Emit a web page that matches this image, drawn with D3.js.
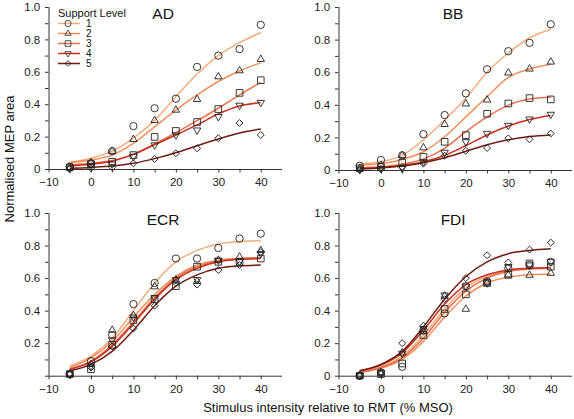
<!DOCTYPE html>
<html><head><meta charset="utf-8">
<script src="https://cdn.jsdelivr.net/npm/d3@7"></script>
<style>
html,body{margin:0;padding:0;background:#fff;}
svg{display:block;font-family:"Liberation Sans",Arial,Helvetica,sans-serif;}
</style></head>
<body><svg id="c" width="574" height="419"></svg>
<script>
// ---------- data ----------
const stimulus = [-5, 0, 5, 10, 15, 20, 25, 30, 35, 40];
const supportLevels = ["1", "2", "3", "4", "5"];
const muscles = ["AD", "BB", "ECR", "FDI"];
const xTicks = [-10, 0, 10, 20, 30, 40];
const yTicks = [0, 0.2, 0.4, 0.6, 0.8, 1.0];
const seriesColors = ["#f5ad7c", "#f0905c", "#e9704c", "#c8301f", "#6e1b10"];
const seriesShapes = ["circle", "triangle", "square", "triangleDown", "diamond"];

// measured points (rows = support level 1..5)
const adPoints = [
  [0.014, 0.035, 0.11, 0.265, 0.375, 0.434, 0.63, 0.70, 0.74, 0.89],
  [0.010, 0.040, 0.11, 0.183, 0.300, 0.364, 0.43, 0.57, 0.607, 0.677],
  [0.010, 0.030, 0.045, 0.086, 0.198, 0.235, 0.29, 0.37, 0.47, 0.548],
  [0.005, 0.020, 0.030, 0.078, 0.148, 0.210, 0.24, 0.323, 0.393, 0.41],
  [0.000, 0.005, 0.010, 0.035, 0.062, 0.097, 0.128, 0.19, 0.284, 0.21]
];
const bbPoints = [
  [0.026, 0.061, 0.09, 0.22, 0.337, 0.47, 0.618, 0.729, 0.78, 0.894],
  [0.010, 0.030, 0.09, 0.137, 0.28, 0.406, 0.43, 0.596, 0.62, 0.663],
  [0.010, 0.020, 0.045, 0.08, 0.173, 0.214, 0.345, 0.408, 0.441, 0.433],
  [0.005, 0.010, 0.010, 0.05, 0.108, 0.173, 0.224, 0.273, 0.312, 0.341],
  [0.000, 0.005, 0.020, 0.039, 0.088, 0.118, 0.135, 0.194, 0.188, 0.224]
];
const ecrPoints = [
  [0.01, 0.09, 0.25, 0.44, 0.57, 0.72, 0.72, 0.785, 0.843, 0.873],
  [0.01, 0.07, 0.28, 0.37, 0.547, 0.59, 0.58, 0.71, 0.73, 0.77],
  [0.01, 0.04, 0.19, 0.34, 0.47, 0.55, 0.67, 0.70, 0.70, 0.72],
  [0.01, 0.06, 0.22, 0.36, 0.48, 0.59, 0.59, 0.71, 0.70, 0.75],
  [0.01, 0.05, 0.18, 0.29, 0.43, 0.57, 0.56, 0.65, 0.68, 0.76]
];
const fdiPoints = [
  [0.0, 0.02, 0.055, 0.28, 0.383, 0.55, 0.58, 0.66, 0.68, 0.70],
  [0.0, 0.02, 0.14, 0.27, 0.49, 0.409, 0.57, 0.62, 0.618, 0.63],
  [0.0, 0.01, 0.075, 0.25, 0.41, 0.50, 0.57, 0.62, 0.69, 0.67],
  [0.0, 0.02, 0.137, 0.29, 0.495, 0.55, 0.57, 0.67, 0.68, 0.70],
  [0.0, 0.01, 0.20, 0.307, 0.47, 0.60, 0.74, 0.696, 0.775, 0.818]
];

// fitted sigmoid curves, read at each stimulus value
const adFit = [
  [0.041, 0.066, 0.11, 0.19, 0.30, 0.446, 0.586, 0.70, 0.78, 0.843],
  [0.039, 0.055, 0.086, 0.158, 0.26, 0.364, 0.457, 0.54, 0.605, 0.656],
  [0.025, 0.035, 0.052, 0.09, 0.155, 0.224, 0.298, 0.375, 0.457, 0.535],
  [0.02, 0.03, 0.048, 0.09, 0.15, 0.21, 0.272, 0.34, 0.389, 0.41],
  [0.005, 0.01, 0.018, 0.035, 0.064, 0.10, 0.144, 0.185, 0.222, 0.247]
];
const bbFit = [
  [0.037, 0.051, 0.09, 0.184, 0.306, 0.44, 0.60, 0.718, 0.81, 0.863],
  [0.03, 0.04, 0.065, 0.112, 0.204, 0.326, 0.449, 0.568, 0.62, 0.649],
  [0.015, 0.02, 0.035, 0.068, 0.133, 0.235, 0.326, 0.398, 0.435, 0.447],
  [0.01, 0.015, 0.027, 0.05, 0.09, 0.15, 0.215, 0.27, 0.31, 0.335],
  [0.008, 0.013, 0.025, 0.045, 0.075, 0.115, 0.155, 0.185, 0.205, 0.215]
];
const ecrFit = [
  [0.06, 0.12, 0.23, 0.40, 0.57, 0.70, 0.77, 0.81, 0.825, 0.83],
  [0.05, 0.11, 0.21, 0.36, 0.50, 0.61, 0.68, 0.71, 0.72, 0.725],
  [0.04, 0.09, 0.19, 0.33, 0.48, 0.60, 0.67, 0.705, 0.72, 0.725],
  [0.04, 0.085, 0.18, 0.32, 0.47, 0.59, 0.66, 0.70, 0.715, 0.72],
  [0.03, 0.07, 0.15, 0.28, 0.43, 0.55, 0.62, 0.66, 0.675, 0.68]
];
const fdiFit = [
  [0.025, 0.055, 0.12, 0.25, 0.41, 0.54, 0.61, 0.645, 0.66, 0.665],
  [0.02, 0.045, 0.10, 0.21, 0.36, 0.49, 0.57, 0.605, 0.62, 0.625],
  [0.02, 0.05, 0.11, 0.23, 0.39, 0.52, 0.60, 0.64, 0.655, 0.66],
  [0.03, 0.065, 0.14, 0.28, 0.44, 0.56, 0.62, 0.65, 0.66, 0.665],
  [0.03, 0.07, 0.15, 0.30, 0.47, 0.61, 0.70, 0.75, 0.77, 0.78]
];

const panelPoints = [adPoints, bbPoints, ecrPoints, fdiPoints];
const panelFits = [adFit, bbFit, ecrFit, fdiFit];

// ---------- layout ----------
const svg = d3.select("#c");
const panels = [
  {x0: 48.5, x1: 282, y0: 169, y1: 7, zeroLabel: true},
  {x0: 338.5, x1: 572, y0: 170, y1: 7, zeroLabel: true},
  {x0: 48.5, x1: 282, y0: 375.7, y1: 213, zeroLabel: false},
  {x0: 338.5, x1: 572, y0: 375.7, y1: 213, zeroLabel: true}
];

function symbolPath(shape) {
  const s = d3.symbol();
  if (shape === "circle") return {d: s.type(d3.symbolCircle).size(42)(), rot: 0};
  if (shape === "triangle") return {d: s.type(d3.symbolTriangle).size(24)(), rot: 0};
  if (shape === "triangleDown") return {d: s.type(d3.symbolTriangle).size(24)(), rot: 180};
  if (shape === "square") return {d: s.type(d3.symbolSquare).size(44)(), rot: 0};
  if (shape === "diamond") return {d: s.type(d3.symbolSquare).size(24)(), rot: 45};
}

panels.forEach((p, pi) => {
  const x = d3.scaleLinear().domain([-10, 45]).range([p.x0, p.x1]);
  const y = d3.scaleLinear().domain([0, 1]).range([p.y0, p.y1]);
  const g = svg.append("g");

  const xAxis = d3.axisBottom(x).tickValues(d3.range(-10, 45, 5)).tickSize(3.5)
    .tickFormat(d => xTicks.includes(d) ? (d < 0 ? "\u2212" + Math.abs(d) : d) : "");
  const gx = g.append("g").attr("transform", `translate(0,${p.y0})`).call(xAxis);
  const yAxis = d3.axisLeft(y).tickValues(d3.range(0, 1.0001, 0.1)).tickSize(3.5)
    .tickFormat(d => {
      const r = Math.round(d * 10) / 10;
      if (!yTicks.some(t => Math.abs(t - r) < 1e-6)) return "";
      if (r === 0) return p.zeroLabel ? "0" : "";
      return r.toFixed(1);
    });
  const gy = g.append("g").attr("transform", `translate(${p.x0},0)`).call(yAxis);
  [gx, gy].forEach(a => {
    a.select(".domain").attr("stroke", "#333").attr("stroke-width", 1);
    a.selectAll(".tick line").attr("stroke", "#333").attr("stroke-width", 1);
    a.selectAll(".tick text").attr("font-size", 11.5).attr("fill", "#222")
      .attr("font-family", '"Liberation Sans", Arial, sans-serif');
  });
  gx.selectAll(".tick text").attr("dy", "0.95em");
  gy.selectAll(".tick text").attr("dx", "-0.15em");
  gx.select(".domain").attr("d", `M${p.x0},0.5H${p.x1}`);
  gy.select(".domain").attr("d", `M0.5,${p.y0}V${p.y1}`);

  // title
  g.append("text").attr("x", x(17)).attr("y", p.y1 + 12)
    .attr("text-anchor", "middle").attr("font-size", 15.5).attr("fill", "#111")
    .text(muscles[pi]);

  // fitted curves
  const line = d3.line().x((d, i) => x(stimulus[i])).y(d => y(d)).curve(d3.curveMonotoneX);
  panelFits[pi].forEach((fit, si) => {
    g.append("path").attr("d", line(fit)).attr("fill", "none")
      .attr("stroke", seriesColors[si]).attr("stroke-width", 1.5);
  });

  // points
  panelPoints[pi].forEach((vals, si) => {
    const sp = symbolPath(seriesShapes[si]);
    g.append("g").selectAll("path").data(vals).join("path")
      .attr("d", sp.d)
      .attr("transform", (d, i) => `translate(${x(stimulus[i])},${y(d)}) rotate(${sp.rot})`)
      .attr("fill", "none").attr("stroke", "#222").attr("stroke-width", 0.9);
  });
});

// legend
const lg = svg.append("g");
lg.append("text").attr("x", 58).attr("y", 17).attr("font-size", 11).attr("fill", "#111")
  .text("Support Level");
supportLevels.forEach((lab, i) => {
  const yy = 23.5 + i * 10;
  lg.append("line").attr("x1", 58).attr("x2", 80).attr("y1", yy).attr("y2", yy)
    .attr("stroke", seriesColors[i]).attr("stroke-width", 1.5);
  const sp = symbolPath(seriesShapes[i]);
  lg.append("path").attr("d", sp.d).attr("transform", `translate(68,${yy}) rotate(${sp.rot}) scale(0.85)`)
    .attr("fill", "none").attr("stroke", "#222").attr("stroke-width", 0.9);
  lg.append("text").attr("x", 86).attr("y", yy + 3.6).attr("font-size", 10).attr("fill", "#111").text(lab);
});

// axis labels
svg.append("text").attr("x", 328).attr("y", 412).attr("text-anchor", "middle")
  .attr("font-size", 13).attr("fill", "#111").text("Stimulus intensity relative to RMT (% MSO)");
svg.append("text").attr("transform", "translate(13.5,159) rotate(-90)").attr("text-anchor", "middle")
  .attr("font-size", 13).attr("fill", "#111").text("Normalised MEP area");
</script></body></html>
